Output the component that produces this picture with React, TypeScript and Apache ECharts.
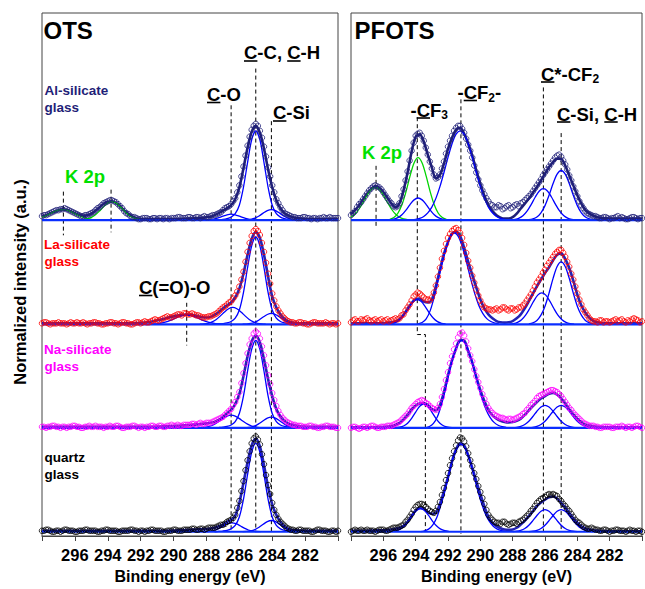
import React, { useEffect, useRef } from "react";
import * as echarts from "echarts";

const FONT = '"Liberation Sans", Arial, Helvetica, sans-serif';
const STEP = 0.25;
// measured-point / fit energy grids (eV)
const energies: number[] = Array.from({ length: 73 }, (_, i) => 298 - i * STEP);
const energiesMid: number[] = Array.from({ length: 72 }, (_, i) => 297.875 - i * STEP);
const xTickLabels = [296, 294, 292, 290, 288, 286, 284, 282];

// vertical offsets of the stacked spectra (a.u.)
const OFF_AL = 318.3;
const OFF_LA = 213.3;
const OFF_NA = 109;
const OFF_QZ = 4.3;

type Comp = { from: number; v: number[] };

// ---------------- OTS ----------------
const otsAlRaw = [4,5,7,9,10,11,11,9,7,5,4,5,7,10,13,17,19,20,18,14,9,6,3,2,1,
  2,1,2,1,2,2,1,2,3,2,2,3,2,3,3,
  3,4,5,7,10,13,16,22,35,54,75,91,97,90,74,53,35,21,13,7,5,3,2,
  2,3,2,2,1,2,2,3,2,2];
const otsAlRaw2 = [5,6,8,10,11,12,10,8,6,4,5,6,8,12,15,18,20,19,16,12,7,4,3,1,2,
  2,1,2,2,1,2,2,2,3,2,3,2,3,2,4,
  3,5,6,8,12,14,19,28,44,65,84,95,95,83,64,44,28,17,10,6,4,3,2,
  3,2,1,2,2,3,2,2,2];
const otsAlFit = [4,5,7,8.5,10,10.8,10.5,9,7,5.5,4.5,5,6.5,9.5,13,16.5,18.5,19,17.5,14,9.5,6,3.5,2,1.2,
  1,1,1,1,1,1,1,1,1,1.2,1.4,1.6,1.8,2,2.3,
  2.8,3.5,5,7,9.5,12,15,21,33,52,73,89,95,88,72,51,33,20,12,7,4.5,3,2,
  1.5,1.2,1,1,1,1,1,1,1,1];
const otsAlK1: Comp = { from: 298, v: [2.75,4.5,6.5,8.5,10,10.5,10,8.5,6.5,4.5,2.75,1.5,0.76,0.34,0] };
const otsAlK2: Comp = { from: 295.75, v: [0.13,0.43,1.15,2.7,5.4,9.25,13.6,17.1,18.5,17.1,13.6,9.25,5.4,2.7,1.15,0.43,0.13] };
const otsAlCO: Comp = { from: 288.25, v: [0,0.15,0.46,1.2,2.4,4,5.4,6,5.4,4,2.4,1.2,0.46,0.15,0] };
const otsAlCC: Comp = { from: 287.5, v: [0,0.3,0.7,1.5,3,6.5,15,33,58,81,90,81,58,33,15,6.5,3,1.5,0.7,0.3,0] };
const otsAlCSi: Comp = { from: 285.8, v: [0.07,0.26,0.8,2,4.2,7,9.5,10.5,9.5,7,4.2,2,0.8,0.26,0.07] };

const otsLaRaw = [1,2,0,1,2,1,0,2,1,1,2,0,1,2,1,0,1,2,1,1,
  2,1,0,2,1,3,2,4,4,5,7,7,8,10,9,11,
  10,10,9,7,7,8,10,13,17,20,23,29,38,53,73,89,
  96,90,73,51,31,18,11,6,3,2,1,2,1,0,2,1,1,2,0,1,1];
const otsLaRaw2 = [2,1,1,1,1,1,1,1,2,1,1,1,2,1,0,1,2,1,0,2,
  1,0,1,2,2,2,3,5,4,6,8,7,9,10,11,10,
  11,9,8,7,8,9,11,15,18,22,26,33,45,63,82,94,
  94,82,62,41,24,14,8,4,2,1,2,1,0,1,2,1,1,1,1,0];
const otsLaFit = [1,1,1,1,1,1,1,1,1,1,1,1,1,1,1,1,1,1,1,1,
  1,1,1,1.2,1.5,1.8,2.3,3,3.8,4.8,5.9,7,8,8.9,9.5,9.9,
  9.8,9.2,8.2,7.2,6.8,7.5,9.5,12.5,16,19,22,27,36,51,70,86,
  93,87,70,48,28,17,10,5.5,3,1.8,1.3,1,1,1,1,1,1,1,1,1,1];
const otsLaCOO: Comp = { from: 291.45, v: [0.12,0.3,0.67,1.36,2.4,3.95,5.75,7.5,8.8,9.3,8.8,7.5,5.75,3.95,2.4,1.36,0.67,0.3,0.12] };
const otsLaCO: Comp = { from: 288.4, v: [0.12,0.4,1.05,2.5,4.95,8.5,12.5,15.7,17,15.7,12.5,8.5,4.95,2.5,1.05,0.4,0.12] };
const otsLaCC: Comp = { from: 287.5, v: [0,0.3,0.7,1.4,2.9,6.3,14.5,32,57,79,88,79,57,32,14.5,6.3,2.9,1.4,0.7,0.3,0] };
const otsLaCSi: Comp = { from: 285.8, v: [0.07,0.27,0.85,2.1,4.4,7.3,9.9,11,9.9,7.3,4.4,2.1,0.85,0.27,0.07] };

const otsNaRaw = [1,0,1,2,1,1,0,1,2,1,0,1,1,2,1,0,1,1,2,1,0,1,2,1,1,0,1,2,
  1,2,1,2,2,3,2,3,3,4,4,4,5,5,7,9,
  11,15,19,26,36,55,75,90,97,90,73,53,35,22,13,8,5,3,2,2,1,2,1,0,1,2,1,1,0];
const otsNaRaw2 = [1,1,2,1,0,1,1,2,1,0,1,2,1,1,1,1,2,1,2,0,1,1,2,0,1,1,2,1,
  2,1,2,3,2,2,3,3,4,3,5,4,5,6,8,10,
  13,17,23,31,45,65,84,95,95,82,63,44,28,17,10,6,4,3,2,1,1,2,1,0,1,2,1,0];
const otsNaFit = [1,1,1,1,1,1,1,1,1,1,1,1,1,1,1,1,1,1,1,1,1,1,1,1,1,1,1,1,
  1.2,1.3,1.5,1.7,1.9,2.1,2.3,2.6,2.9,3.2,3.6,4,4.5,5.2,6,8,
  11,14.5,18,24,34,52,72,87,93,86,69,49,32,19,11.5,7,4.3,3,2,1.5,1.2,1,1,1,1,1,1,1,1];
const otsNaCO: Comp = { from: 288.5, v: [0.1,0.3,0.8,1.85,3.7,6.35,9.3,11.8,12.7,11.8,9.3,6.35,3.7,1.85,0.8,0.3,0.1] };
const otsNaCC: Comp = { from: 287.5, v: [0,0.3,0.7,1.4,2.9,6.3,14.5,32,57,79,88,79,57,32,14.5,6.3,2.9,1.4,0.7,0.3,0] };
const otsNaCSi: Comp = { from: 285.8, v: [0.07,0.26,0.82,2,4.3,7.1,9.7,10.7,9.7,7.1,4.3,2,0.82,0.26,0.07] };

const otsQzRaw = [1,2,1,0,1,1,2,1,0,1,1,2,1,1,0,1,2,1,1,0,1,1,2,1,1,0,1,2,1,1,0,1,2,1,1,2,
  2,3,2,3,3,4,4,6,7,10,12,17,31,51,72,89,96,88,68,47,29,17,10,6,3,2,1,2,1,1,0,2,1,1,0,1,1];
const otsQzRaw2 = [1,2,0,1,0,2,1,1,0,1,2,1,1,0,1,2,1,1,0,1,1,2,1,0,1,1,2,1,1,0,1,1,2,1,2,2,
  3,2,3,2,4,4,5,7,8,11,14,24,41,62,81,94,93,78,57,38,22,13,8,4,2,1,2,1,1,0,1,2,1,0,1,0];
const otsQzFit = [1,1,1,1,1,1,1,1,1,1,1,1,1,1,1,1,1,1,1,1,1,1,1,1,1,1,1,1,1,1,1,1,1.2,1.4,1.6,1.8,
  2,2.2,2.4,2.6,2.8,3.3,4,5.5,7.2,10,12,16,29,49,70,87,94,86,67,45,27.5,17,10,5.5,2.8,1.8,1.4,1.2,
  1,1,1,1,1,1,1,1,1];
const otsQzCO: Comp = { from: 288.2, v: [0.06,0.22,0.7,1.75,3.6,6,8.1,9,8.1,6,3.6,1.75,0.7,0.22,0.06] };
const otsQzCC: Comp = { from: 287.5, v: [0,0.3,0.7,1.4,2.9,6.4,14.8,32.6,57.5,80,89,80,57.5,32.6,14.8,6.4,2.9,1.4,0.7,0.3,0] };
const otsQzCSi: Comp = { from: 285.8, v: [0.08,0.28,0.86,2.2,4.5,7.5,10.2,11.3,10.2,7.5,4.5,2.2,0.86,0.28,0.08] };

// ---------------- PFOTS ----------------
const pfAlRaw = [5,9,16,21,27,32,35,33,28,22,17,13,
  17,31,49,70,85,88,80,66,52,42,46,59,
  74,85,93,95,88,76,63,48,35,26,19,15,
  13,14,12,15,13,16,17,20,24,29,35,41,
  48,54,60,65,64,56,45,34,24,15,9,6,4,3,2,3,
  1,2,4,3,1,2,3,1,2];
const pfAlRaw2 = [7,13,18,24,30,34,34,31,25,19,14,14,
  24,40,60,78,87,85,73,59,46,43,52,67,
  80,90,95,92,82,70,55,41,30,22,16,13,
  15,11,14,12,15,14,18,22,26,32,38,45,
  51,57,63,66,60,51,40,29,19,12,7,5,4,2,3,2,
  2,3,2,2,1,3,2,2];
const pfAlFit = [5.7,10,15,21,26.7,31.5,34.3,32.5,28.3,22.5,16.7,12.8,
  17,30,48,69,84,86.5,79,66,53,42,45.5,57,
  71.7,83,91,93,87,77,65,50,36.7,24.5,15,9,
  5,2.5,1.5,1.5,3,6.5,11.7,16.5,21.7,27.5,33.3,40,
  46.7,53.5,58.5,62,61.7,55,45,35,25,16.5,10,6.5,4.3,3,2.2,1.8,
  1.5,1.5,1.5,1.5,1.5,1.5,1.5,1.5,1.5];
const pfAlK1: Comp = { from: 298, v: [2.9,6.1,11.2,18,25.2,30.9,33,30.9,25.2,18,11.2,6.1,2.9,1.2,0.44] };
const pfAlK2: Comp = { from: 295.6, v: [0.8,2.6,6.9,15.4,28.5,44.3,57.6,63,57.6,44.3,28.5,15.4,6.9,2.6,0.8] };
const pfAlCF3: Comp = { from: 295.6, v: [0.3,0.94,2.45,5.4,10.1,15.7,20.4,22.3,20.4,15.7,10.1,5.4,2.45,0.94,0.3] };
const pfAlCF2: Comp = { from: 294.25, v: [0.3,0.8,1.8,3.7,7.3,13.1,21.9,33.7,48,63.2,77,86.6,90,86.6,77,63.2,48,33.7,21.9,13.1,7.3,3.7,1.8,0.8,0.3] };
const pfAlCS: Comp = { from: 288.1, v: [0.23,0.73,2,4.6,9.2,15.9,23.3,29.4,31.7,29.4,23.3,15.9,9.2,4.6,2,0.73,0.23] };
const pfAlCSi: Comp = { from: 287, v: [0.36,1.15,3.1,7.3,14.6,25,36.8,46.3,50,46.3,36.8,25,14.6,7.3,3.1,1.15,0.36] };

const pfLaRaw = [2,5,3,4,6,3,5,4,3,5,4,6,
  6,10,17,24,30,31,27,25,27,39,57,74,
  87,94,97,92,80,64,49,35,24,17,15,14,
  16,15,17,14,16,15,17,21,27,34,42,48,
  55,62,68,73,75,68,58,45,31,20,12,6,3,2,4,3,
  2,4,3,5,2,3,6,4,3];
const pfLaRaw2 = [4,3,5,5,4,4,3,5,4,3,5,5,
  9,14,20,28,32,29,25,24,32,48,66,81,
  91,96,95,87,72,57,42,29,20,16,15,15,
  14,17,15,16,14,17,19,24,30,38,45,52,
  59,65,71,75,72,63,51,38,25,15,9,4,3,4,2,3,
  3,5,4,3,4,5,5,2];
const pfLaFit = [1,1,1,1,1,1,1,1,1.2,1.5,2,2.8,
  5,9.5,15.5,21.5,25.3,26,23,22,25,38.5,55,71,
  83,91.5,93.3,89,77,63,50,37,25,16,10,6,
  3.3,2,1.7,2,3.3,6,10,16,23.3,31,38.3,45,
  51.7,57.5,64.5,70,71.5,66,56.7,44,30,19,11.7,6.5,3.3,2,1.4,1.1,
  1,1,1,1,1,1,1,1,1];
const pfLaCF3: Comp = { from: 295.65, v: [0.33,1.05,2.75,6.1,11.3,17.6,22.9,25,22.9,17.6,11.3,6.1,2.75,1.05,0.33] };
const pfLaCF2: Comp = { from: 293.85, v: [0.5,1.8,5.5,13.8,27.6,45,62.3,77.4,88.1,92,88.1,77.4,62.3,46,31.2,19.3,11,5.75,2.8,1.2,0.46] };
const pfLaCS: Comp = { from: 288.2, v: [0.23,0.73,2,4.6,9.2,15.9,23.3,29.4,31.7,29.4,23.3,15.9,9.2,4.6,2,0.73,0.23] };
const pfLaCSi: Comp = { from: 287, v: [0.45,1.45,3.9,9.2,18.3,31.5,46.3,58.3,63,58.3,46.3,31.5,18.3,9.2,3.9,1.45,0.45] };

const pfNaRaw = [0,1,-1,1,0,2,1,0,1,2,2,4,
  6,10,14,20,24,27,27,24,20,18,24,39,
  56,72,85,95,93,80,67,52,40,29,20,15,
  12,10,9,9,8,10,12,15,20,25,30,33,
  35,37,38,36,32,26,20,15,11,7,4,2,2,1,0,1,
  1,0,1,2,0,1,1,2,0];
const pfNaRaw2 = [1,0,0,1,1,2,0,1,1,2,3,5,
  8,12,17,22,26,28,25,22,19,20,31,48,
  65,79,91,96,87,73,59,46,34,24,17,13,
  11,10,8,9,9,11,14,18,23,27,32,34,
  36,38,37,34,29,23,18,13,9,5,3,2,1,0,1,1,
  0,1,1,1,1,0,2,1];
const pfNaFit = [0.5,0.5,0.5,0.5,0.5,0.5,0.5,0.7,0.9,1.2,1.7,3,
  5,8.5,13,18.5,22.5,24.5,25,23,19,17.5,23,36,
  53,68,80,88.5,88,77,66,51,38,27,18,12.5,
  9.3,7.2,6,5.5,5.8,7,9.3,13,17.7,22,26,29.5,
  32,34.3,35.2,33.5,30,24.5,18.7,13.5,9.3,5.8,3.3,2.2,1.5,1.1,0.8,0.6,
  0.5,0.5,0.5,0.5,0.5,0.5,0.5,0.5,0.5];
const pfNaCF3: Comp = { from: 295.25, v: [0.16,0.6,1.85,4.7,9.6,15.9,21.7,24,21.7,15.9,9.6,4.7,1.85,0.6,0.16] };
const pfNaCF2: Comp = { from: 293.4, v: [0,1.3,4.4,11.4,23.8,39.6,58,73,83.6,88,84.3,74,59.6,44,29.8,18.5,10.6,5.5,2.64,1.14,0.44] };
const pfNaCS: Comp = { from: 288, v: [0.16,0.52,1.4,3.3,6.6,11.4,16.7,21,22.7,21,16.7,11.4,6.6,3.3,1.4,0.52,0.16] };
const pfNaCSi: Comp = { from: 287, v: [0.16,0.52,1.4,3.3,6.6,11.4,16.7,21,22.7,21,16.7,11.4,6.6,3.3,1.4,0.52,0.16] };

const pfQzRaw = [0,2,1,1,2,1,0,2,2,1,3,4,
  5,7,12,18,25,28,27,23,20,21,30,44,
  59,74,87,95,91,79,66,53,40,28,17,12,
  9,8,10,7,9,8,11,14,18,23,29,33,
  35,38,38,36,31,26,21,15,10,7,4,3,3,2,1,2,
  0,1,2,1,0,2,1,1,0];
const pfQzRaw2 = [1,1,2,1,1,1,1,2,1,2,4,4,
  6,10,15,22,27,28,25,21,19,25,37,52,
  67,81,92,94,86,72,59,46,34,22,14,10,
  9,10,8,8,9,10,12,16,21,26,31,34,
  37,37,37,33,28,23,18,12,9,5,3,4,2,1,2,1,
  1,2,1,1,1,1,0,1];
const pfQzFit = [1,1,1,1,1,1.2,1.3,1.4,1.5,1.8,2.3,3,
  4,6,10,16,21.5,24,23.3,20,18,19,28,41,
  55,71,83,89,87,77,64.5,51,38,25.5,15,9,
  5.7,3.5,2.3,2,2.3,4,7.3,11,15.7,20.5,25.7,29.5,
  32.3,34.8,35.5,33.5,29,24.5,19,13.5,9,5.5,3.3,2.2,1.5,1.1,0.8,0.6,
  0.5,0.5,0.5,0.5,0.5,0.5,0.5,0.5,0.5];
const pfQzCF3: Comp = { from: 295.45, v: [0.3,1,2.6,5.7,10.5,16.4,21.3,23.3,21.3,16.4,10.5,5.7,2.6,1,0.3] };
const pfQzCF2: Comp = { from: 293.7, v: [0,0.9,2.6,6.6,14,26.4,40.5,57.2,74,83.6,88,84.3,74,59.6,44,29.8,18.5,10.6,5.5,2.64,1.14,0.44] };
const pfQzCS: Comp = { from: 288, v: [0.16,0.51,1.4,3.2,6.5,11.2,16.4,20.6,22.3,20.6,16.4,11.2,6.5,3.2,1.4,0.51,0.16] };
const pfQzCSi: Comp = { from: 287, v: [0.16,0.51,1.4,3.2,6.5,11.2,16.4,20.6,22.3,20.6,16.4,11.2,6.5,3.2,1.4,0.51,0.16] };

// peak-position markers: [energy, yTop, yBottom]
const otsMarkers = [[296.7, 347, 303], [293.8, 349, 306], [289.2, 235, 192], [286.5, 434, 4], [285.0, 471, 4], [284.05, 418, 4]];
const pfMarkers = [[296.45, 373, 312], [291.2, 440, 2], [286.1, 452, 4], [285.0, 406, 4]];
const pfCf3Marker = [[293.9, 422], [293.9, 203], [293.4, 203], [293.4, 4]];

const NAVY = "#1f1f78";
const FITC = "#2323b4";
const COMPC = "#0000ff";
const BASEC = "#0a2eff";
const GREEN = "#00d400";
const GREEN_TXT = "#00e000";

type Spectrum = { panel: number; off: number; raw: number[]; raw2: number[]; fit: number[]; dot: string; fitColor: string; blue: Comp[]; green: Comp[] };

const spectra: Spectrum[] = [
  { panel: 0, off: OFF_AL, raw: otsAlRaw, raw2: otsAlRaw2, fit: otsAlFit, dot: NAVY, fitColor: NAVY, blue: [otsAlCO, otsAlCC, otsAlCSi], green: [otsAlK1, otsAlK2] },
  { panel: 0, off: OFF_LA, raw: otsLaRaw, raw2: otsLaRaw2, fit: otsLaFit, dot: "#ff0000", fitColor: FITC, blue: [otsLaCOO, otsLaCO, otsLaCC, otsLaCSi], green: [] },
  { panel: 0, off: OFF_NA, raw: otsNaRaw, raw2: otsNaRaw2, fit: otsNaFit, dot: "#ff00ff", fitColor: FITC, blue: [otsNaCO, otsNaCC, otsNaCSi], green: [] },
  { panel: 0, off: OFF_QZ, raw: otsQzRaw, raw2: otsQzRaw2, fit: otsQzFit, dot: "#000000", fitColor: FITC, blue: [otsQzCO, otsQzCC, otsQzCSi], green: [] },
  { panel: 1, off: OFF_AL, raw: pfAlRaw, raw2: pfAlRaw2, fit: pfAlFit, dot: NAVY, fitColor: NAVY, blue: [pfAlCF3, pfAlCF2, pfAlCS, pfAlCSi], green: [pfAlK1, pfAlK2] },
  { panel: 1, off: OFF_LA, raw: pfLaRaw, raw2: pfLaRaw2, fit: pfLaFit, dot: "#ff0000", fitColor: FITC, blue: [pfLaCF3, pfLaCF2, pfLaCS, pfLaCSi], green: [] },
  { panel: 1, off: OFF_NA, raw: pfNaRaw, raw2: pfNaRaw2, fit: pfNaFit, dot: "#ff00ff", fitColor: FITC, blue: [pfNaCF3, pfNaCF2, pfNaCS, pfNaCSi], green: [] },
  { panel: 1, off: OFF_QZ, raw: pfQzRaw, raw2: pfQzRaw2, fit: pfQzFit, dot: "#000000", fitColor: FITC, blue: [pfQzCF3, pfQzCF2, pfQzCS, pfQzCSi], green: [] },
];

function buildOption() {
  const series: any[] = [];
  const dashed = (data: number[][], panel: number) => ({
    type: "line", xAxisIndex: panel, yAxisIndex: panel, data, symbol: "none", silent: true, z: 2,
    lineStyle: { color: "#000", width: 1, type: [4, 3] },
  });
  otsMarkers.forEach((m) => series.push(dashed([[m[0], m[1]], [m[0], m[2]]], 0)));
  pfMarkers.forEach((m) => series.push(dashed([[m[0], m[1]], [m[0], m[2]]], 1)));
  series.push(dashed(pfCf3Marker, 1));

  for (const s of spectra) {
    const ax = { xAxisIndex: s.panel, yAxisIndex: s.panel };
    series.push({
      type: "line", ...ax, data: s.fit.map((h, i) => [energies[i], s.off + h]), symbol: "none", smooth: 0.3,
      silent: true, z: 3, lineStyle: { color: s.fitColor, width: 2.6 },
    });
    const comp = (c: Comp, color: string) => ({
      type: "line", ...ax, data: c.v.map((h, j) => [c.from - j * STEP, s.off + h]), symbol: "none", smooth: 0.3,
      silent: true, z: 4, lineStyle: { color, width: 1.3 },
    });
    s.green.forEach((c) => series.push(comp(c, GREEN)));
    s.blue.forEach((c) => series.push(comp(c, COMPC)));
    series.push({
      type: "line", ...ax, data: [[298, s.off], [280, s.off]], symbol: "none", silent: true, z: 5,
      lineStyle: { color: BASEC, width: 2.2 },
    });
    const pts = s.raw.map((h, i) => [energies[i], s.off + h]).concat(s.raw2.map((h, i) => [energiesMid[i], s.off + h]));
    series.push({
      type: "scatter", ...ax, data: pts, symbol: "circle", symbolSize: 5.5,
      silent: true, z: 6, itemStyle: { color: "rgba(0,0,0,0)", borderColor: s.dot, borderWidth: 1 },
    });
  }

  const xAxis = (gridIndex: number) => ({
    type: "value", gridIndex, min: 280, max: 298, interval: 2, inverse: true,
    name: "Binding energy (eV)", nameLocation: "middle", nameGap: 32,
    nameTextStyle: { fontSize: 16, fontWeight: "bold", color: "#000", fontFamily: FONT },
    axisLine: { show: true, lineStyle: { color: "#444", width: 1 } },
    axisTick: { show: true, inside: false, length: 5, lineStyle: { color: "#444" } },
    splitLine: { show: false },
    axisLabel: {
      fontSize: 16.5, fontWeight: "bold", color: "#000", fontFamily: FONT, margin: 10,
      formatter: (v: number) => (xTickLabels.indexOf(v) >= 0 ? String(v) : ""),
    },
  });
  const yAxis = (gridIndex: number) => ({ type: "value", gridIndex, min: 0, max: 527, show: false });

  const T = (text: string, x: number, y: number, size: number, fill = "#000") => ({
    type: "text", x, y, silent: true, z: 100,
    style: { text, fill, font: `bold ${size}px ${FONT}`, textAlign: "left", textVerticalAlign: "middle" },
  });
  const U = (x1: number, x2: number, y: number) => ({
    type: "line", silent: true, z: 100, shape: { x1, y1: y, x2, y2: y }, style: { stroke: "#000", lineWidth: 1.6 },
  });
  const A = 18.5;
  const graphic: any[] = [
    {
      type: "text", x: 20, y: 282, rotation: Math.PI / 2, silent: true,
      style: { text: "Normalized intensity (a.u.)", fill: "#000", font: `bold 16.5px ${FONT}`, textAlign: "center", textVerticalAlign: "middle" },
    },
    // OTS panel
    T("OTS", 43.5, 30, 24),
    T("C-C, C-H", 244, 52.5, A), U(244, 257.4, 61), U(287.2, 300.6, 61),
    T("C-O", 207, 94, A), U(207, 220.4, 102.5),
    T("C-Si", 273, 112.5, A), U(273, 286.4, 121),
    T("K 2p", 65, 176, A, GREEN_TXT),
    T("C(=O)-O", 139, 287, A), U(139, 152.4, 295.5),
    T("Al-silicate", 44.5, 90.5, 13.5, NAVY), T("glass", 44.5, 107.5, 13.5, NAVY),
    T("La-silicate", 44, 244, 13.5, "#ff0000"), T("glass", 44.5, 261.5, 13.5, "#ff0000"),
    T("Na-silicate", 44, 349, 13.5, "#ff00ff"), T("glass", 44.5, 366.5, 13.5, "#ff00ff"),
    T("quartz", 44.5, 457, 13.5, "#000"), T("glass", 44.5, 474, 13.5, "#000"),
    // PFOTS panel
    T("PFOTS", 354.5, 30, 24),
    T("-CF", 410.5, 110, A), T("3", 441.3, 115, 12), U(416.7, 430, 118),
    T("-CF", 457.5, 92.5, A), T("2", 488.3, 97.5, 12), T("-", 495, 92.5, A), U(463.7, 477, 100.5),
    T("C*-CF", 541, 74, A), T("2", 592.4, 79, 12), U(541, 554.4, 82),
    T("C-Si, C-H", 557, 114, A), U(557, 570.4, 122), U(604.3, 617.7, 122),
    T("K 2p", 362, 152, A, GREEN_TXT),
  ];

  return {
    animation: false,
    backgroundColor: "#fff",
    textStyle: { fontFamily: FONT },
    grid: [
      { left: 42, top: 13, width: 296, height: 527, show: true, borderColor: "#444", borderWidth: 1, backgroundColor: "transparent" },
      { left: 351, top: 13, width: 296, height: 527, show: true, borderColor: "#444", borderWidth: 1, backgroundColor: "transparent" },
    ],
    xAxis: [xAxis(0), xAxis(1)],
    yAxis: [yAxis(0), yAxis(1)],
    series,
    graphic,
  };
}

export default function App() {
  const ref = useRef<HTMLDivElement>(null);
  useEffect(() => {
    if (!ref.current) return;
    const chart = echarts.init(ref.current, null, { renderer: "svg" });
    chart.setOption(buildOption() as any);
    return () => chart.dispose();
  }, []);
  return (
    <div
      ref={ref}
      style={{ position: "fixed", left: 0, top: 0, width: 645, height: 589, background: "#fff" }}
    />
  );
}
